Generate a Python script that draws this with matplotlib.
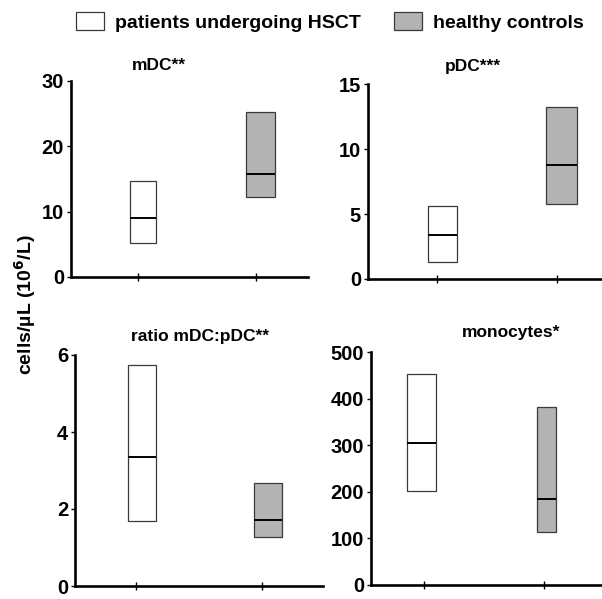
import matplotlib
matplotlib.use("Agg")
import matplotlib.pyplot as plt
from matplotlib.patches import Patch

plt.rcParams["font.family"] = ["Liberation Sans", "DejaVu Sans"]
plt.rcParams["font.weight"] = "bold"

# values (box = range, line = median)
panel_titles = ["mDC**", "pDC***", "ratio mDC:pDC**", "monocytes*"]
hsct_low = [5.2, 1.3, 1.69, 201]
hsct_median = [9.1, 3.4, 3.34, 304]
hsct_high = [14.7, 5.64, 5.75, 453]
ctrl_low = [12.2, 5.75, 1.26, 113]
ctrl_median = [15.7, 8.8, 1.71, 184]
ctrl_high = [25.2, 13.2, 2.67, 383]
y_max = [30, 15, 6, 500]
y_ticks = [[0, 10, 20, 30], [0, 5, 10, 15], [0, 2, 4, 6], [0, 100, 200, 300, 400, 500]]
group_labels = ["patients undergoing HSCT", "healthy controls"]

W, H = 602, 599
# axes boxes in pixels: left, right, top, bottom
boxes_px = [(71, 308, 81, 277), (368, 602, 84, 279), (75, 323, 355, 586), (371, 602, 352, 585)]
xlims = [(0.432, 2.44), (0.425, 2.375), (0.516, 2.484), (0.558, 2.483)]
bar_widths = [(0.22, 0.245), (0.24, 0.26), (0.22, 0.22), (0.24, 0.16)]
bar_shift = [(0.042, 0.04), (0.046, 0.038), (0.048, 0.048), (-0.02, 0.02)]
title_px = [(159, 66), (473, 66), (200, 337), (511, 333)]

WHITE = "white"
GREY = "#b3b3b3"
EDGE = "#3a3a3a"

fig = plt.figure(figsize=(W / 100, H / 100), dpi=100)

for i in range(4):
    l, r, t, b = boxes_px[i]
    ax = fig.add_axes([l / W, 1 - b / H, (r - l) / W, (b - t) / H])
    lo = [hsct_low[i], ctrl_low[i]]
    med = [hsct_median[i], ctrl_median[i]]
    hi = [hsct_high[i], ctrl_high[i]]
    for j, (face, w) in enumerate(zip([WHITE, GREY], bar_widths[i])):
        x = j + 1 + bar_shift[i][j]
        ax.bar(x, hi[j] - lo[j], bottom=lo[j], width=w, facecolor=face,
               edgecolor=EDGE, linewidth=0.9, zorder=2)
        ax.hlines(med[j], x - w / 2, x + w / 2, color="black", linewidth=1.4, zorder=3)
    ax.set_xlim(*xlims[i])
    ax.set_ylim(0, y_max[i])
    ax.set_xticks([1, 2])
    ax.set_xticklabels([])
    ax.set_yticks(y_ticks[i])
    ax.tick_params(axis="x", direction="inout", length=6, width=1)
    ax.tick_params(axis="y", direction="out", length=3, width=1, labelsize=14.5, pad=2)
    for lab in ax.get_yticklabels():
        lab.set_fontweight("bold")
    for side in ("top", "right"):
        ax.spines[side].set_visible(False)
    for side in ("left", "bottom"):
        ax.spines[side].set_linewidth(1.9)
    ax.patch.set_alpha(0)
    tx, ty = title_px[i]
    fig.text(tx / W, 1 - ty / H, panel_titles[i], ha="center", va="center",
             fontsize=12.5, fontweight="bold")

fig.text(25 / W, 1 - 305 / H, "cells/\u00b5L (10$^{\\mathbf{6}}$/L)", rotation=90,
         ha="center", va="center", fontsize=14, fontweight="bold")

handles = [Patch(facecolor=WHITE, edgecolor=EDGE, linewidth=0.9),
           Patch(facecolor=GREY, edgecolor=EDGE, linewidth=0.9)]
fig.legend(handles, group_labels, loc="center", bbox_to_anchor=(330 / W, 1 - 22 / H),
           ncol=2, frameon=False, handlelength=1.45, handleheight=1.05,
           handletextpad=0.55, columnspacing=1.7, borderpad=0,
           prop={"weight": "bold", "size": 14})

fig.savefig("out.png", dpi=100)
